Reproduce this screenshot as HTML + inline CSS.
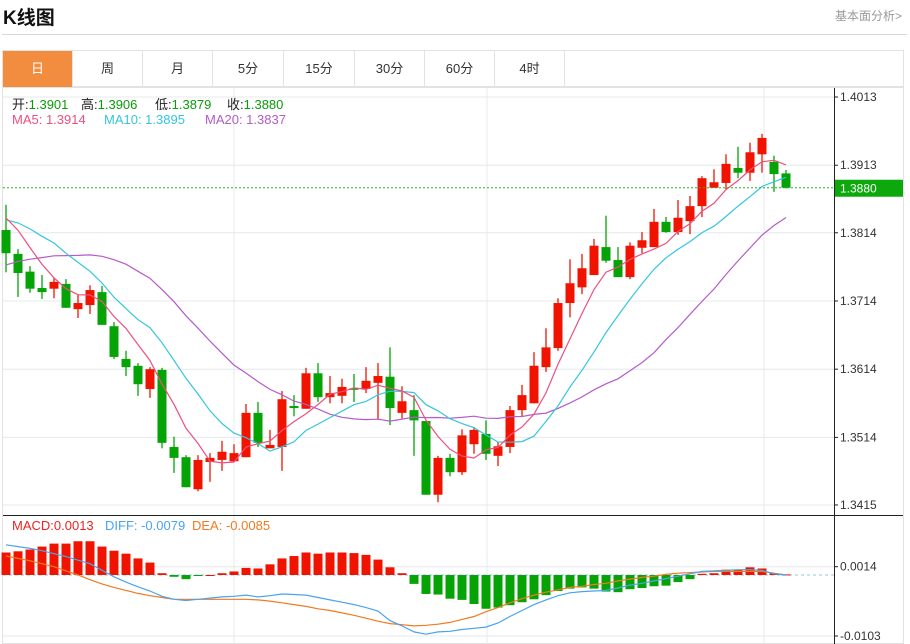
<!DOCTYPE html>
<html><head><meta charset="utf-8"><style>
body{margin:0;width:910px;height:644px;background:#fff;font-family:"Liberation Sans","Noto Sans CJK SC",sans-serif;overflow:hidden;position:relative}
.t{position:absolute;white-space:nowrap}
.l{position:absolute;white-space:nowrap;font-size:13px}
.tab{position:absolute;top:51px;height:36px;line-height:36px;text-align:center;font-size:13px;color:#333;border-right:1px solid #e2e2e2;box-sizing:border-box}
</style></head><body>
<div class="t" style="left:3px;top:3px;font-size:19px;font-weight:bold;color:#111">K线图</div>
<div class="t" style="left:835px;top:7px;font-size:12px;color:#999">基本面分析&gt;</div>
<div style="position:absolute;left:2px;top:34px;width:905px;height:1px;background:#d8d8d8"></div>
<div style="position:absolute;left:2px;top:50px;width:902px;height:37px;border:1px solid #e2e2e2;box-sizing:border-box"></div>
<div class="tab" style="left:3px;width:70px;background:#f28c3f;color:#fff">日</div>
<div class="tab" style="left:73px;width:70px">周</div>
<div class="tab" style="left:143px;width:70px">月</div>
<div class="tab" style="left:213px;width:71px">5分</div>
<div class="tab" style="left:284px;width:71px">15分</div>
<div class="tab" style="left:355px;width:70px">30分</div>
<div class="tab" style="left:425px;width:70px">60分</div>
<div class="tab" style="left:495px;width:70px">4时</div>

<svg id="chart" width="910" height="644" style="position:absolute;left:0;top:0" xmlns="http://www.w3.org/2000/svg"></svg>

<div style="position:absolute;left:0;top:94px;color:#222">
<span class="l" style="left:12px">开:<span style="color:#0a9a0a">1.3901</span></span>
<span class="l" style="left:81px">高:<span style="color:#0a9a0a">1.3906</span></span>
<span class="l" style="left:155px">低:<span style="color:#0a9a0a">1.3879</span></span>
<span class="l" style="left:227px">收:<span style="color:#0a9a0a">1.3880</span></span>
</div>
<div style="position:absolute;left:0;top:112px">
<span class="l" style="left:12px;color:#ee4f7e">MA5: 1.3914</span>
<span class="l" style="left:104px;color:#33c6de">MA10: 1.3895</span>
<span class="l" style="left:205px;color:#b45cc8">MA20: 1.3837</span>
</div>
<div style="position:absolute;left:0;top:518px">
<span class="l" style="left:12px;color:#ee2222">MACD:0.0013</span>
<span class="l" style="left:105px;color:#4aa3f0">DIFF: -0.0079</span>
<span class="l" style="left:192px;color:#f07a20">DEA: -0.0085</span>
</div>

<script>
const history=[1.3655,1.3665,1.3680,1.3690,1.3700,1.3705,1.3715,1.3720,1.3730,1.3750,1.3800,1.3820,1.3835,1.3840,1.3855,1.3845,1.3860,1.3850,1.3840];
const opens=[1.3818,1.3783,1.3757,1.3733,1.3732,1.3739,1.3702,1.3708,1.3727,1.3677,1.3629,1.3619,1.3585,1.3613,1.3500,1.3485,1.3438,1.3478,1.3481,1.3479,1.3485,1.3550,1.3498,1.3500,1.3560,1.3556,1.3608,1.3573,1.3575,1.3586,1.3585,1.3594,1.3603,1.3550,1.3554,1.3538,1.3430,1.3484,1.3463,1.3504,1.3519,1.3487,1.3500,1.3554,1.3564,1.3617,1.3645,1.3711,1.3734,1.3752,1.3793,1.3774,1.3749,1.3792,1.3793,1.3830,1.3815,1.3831,1.3853,1.3880,1.3887,1.3909,1.3902,1.3929,1.3918,1.3901];
const highs=[1.3855,1.3790,1.3765,1.3752,1.3748,1.3746,1.3723,1.3737,1.3736,1.3683,1.3641,1.3623,1.3617,1.3616,1.3515,1.3488,1.3488,1.3491,1.3509,1.3504,1.3563,1.3566,1.3525,1.3582,1.3576,1.3616,1.3623,1.3604,1.3600,1.3607,1.3617,1.3623,1.3646,1.3589,1.3576,1.3538,1.3487,1.3490,1.3526,1.3529,1.3539,1.3507,1.3560,1.3591,1.3639,1.3674,1.3718,1.3775,1.3783,1.3805,1.3839,1.3793,1.3800,1.3815,1.3849,1.3837,1.3862,1.3868,1.3897,1.3907,1.3929,1.3940,1.3946,1.3959,1.3927,1.3906];
const lows=[1.3756,1.3720,1.3726,1.3717,1.3718,1.3704,1.3689,1.3695,1.3679,1.3629,1.3604,1.3575,1.3572,1.3498,1.3462,1.3441,1.3435,1.3449,1.3465,1.3478,1.3485,1.3500,1.3498,1.3465,1.3545,1.3556,1.3566,1.3564,1.3564,1.3566,1.3579,1.3541,1.3532,1.3542,1.3487,1.3430,1.3419,1.3457,1.3459,1.3490,1.3481,1.3472,1.3491,1.3545,1.3564,1.3610,1.3641,1.3690,1.3724,1.3752,1.3770,1.3749,1.3746,1.3784,1.3793,1.3814,1.3811,1.3812,1.3837,1.3880,1.3878,1.3894,1.3890,1.3902,1.3874,1.3879];
const closes=[1.3784,1.3755,1.3732,1.3727,1.3742,1.3704,1.3711,1.3730,1.3679,1.3632,1.3617,1.3592,1.3614,1.3506,1.3484,1.3441,1.3481,1.3484,1.3493,1.3491,1.3550,1.3506,1.3503,1.3570,1.3557,1.3608,1.3573,1.3579,1.3588,1.3585,1.3597,1.3604,1.3557,1.3567,1.3539,1.3430,1.3484,1.3463,1.3517,1.3525,1.3490,1.3501,1.3554,1.3576,1.3619,1.3646,1.3711,1.3740,1.3762,1.3795,1.3773,1.3749,1.3795,1.3803,1.3830,1.3815,1.3836,1.3853,1.3894,1.3888,1.3915,1.3902,1.3932,1.3953,1.3900,1.3880];
const macdHist=[0.0038,0.0040,0.0043,0.0048,0.0053,0.0053,0.0057,0.0057,0.0048,0.0041,0.0036,0.0028,0.0021,0.0003,-0.0003,-0.0007,-0.0001,0.0000,0.0003,0.0006,0.0012,0.0011,0.0018,0.0028,0.0032,0.0038,0.0036,0.0038,0.0038,0.0037,0.0034,0.0026,0.0013,0.0003,-0.0015,-0.0032,-0.0033,-0.0040,-0.0042,-0.0049,-0.0057,-0.0055,-0.0051,-0.0046,-0.0041,-0.0034,-0.0027,-0.0023,-0.0021,-0.0023,-0.0028,-0.0029,-0.0024,-0.0022,-0.0019,-0.0018,-0.0012,-0.0007,0.0002,0.0003,0.0009,0.0009,0.0013,0.0011,0.0003,0.0001];
const diffVals=[0.0051,0.0048,0.0045,0.0041,0.0036,0.0031,0.0025,0.0019,0.0008,-0.0003,-0.0012,-0.0020,-0.0027,-0.0036,-0.0041,-0.0043,-0.0041,-0.0039,-0.0037,-0.0036,-0.0034,-0.0037,-0.0035,-0.0032,-0.0033,-0.0034,-0.0038,-0.0042,-0.0046,-0.0050,-0.0055,-0.0061,-0.0077,-0.0086,-0.0096,-0.0100,-0.0096,-0.0095,-0.0092,-0.0090,-0.0088,-0.0081,-0.0070,-0.0060,-0.0050,-0.0042,-0.0035,-0.0030,-0.0028,-0.0027,-0.0026,-0.0022,-0.0017,-0.0014,-0.0010,-0.0006,-0.0002,0.0002,0.0006,0.0007,0.0008,0.0009,0.0009,0.0008,0.0002,0.0000];
const deaVals=[0.0032,0.0028,0.0024,0.0019,0.0014,0.0007,0.0000,-0.0008,-0.0015,-0.0021,-0.0026,-0.0031,-0.0035,-0.0038,-0.0041,-0.0041,-0.0041,-0.0041,-0.0041,-0.0041,-0.0041,-0.0042,-0.0044,-0.0047,-0.0050,-0.0053,-0.0057,-0.0060,-0.0064,-0.0068,-0.0073,-0.0078,-0.0082,-0.0084,-0.0086,-0.0085,-0.0083,-0.0080,-0.0075,-0.0070,-0.0062,-0.0055,-0.0047,-0.0040,-0.0034,-0.0029,-0.0025,-0.0021,-0.0019,-0.0016,-0.0014,-0.0010,-0.0007,-0.0004,-0.0002,0.0001,0.0003,0.0004,0.0005,0.0006,0.0006,0.0006,0.0006,0.0006,0.0003,0.0000];
const priceTicks=[1.4013,1.3913,1.3814,1.3714,1.3614,1.3514,1.3415];
const macdTicks=[0.0014,-0.0103];
const lastPrice=1.3880;

const svg=document.getElementById('chart');
const NS='http://www.w3.org/2000/svg';
function mk(tag,attrs,parent){const e=document.createElementNS(NS,tag);for(const k in attrs)e.setAttribute(k,attrs[k]);(parent||svg).appendChild(e);return e;}
const xOf=i=>6+12*i;
const yP=p=>97+(1.4013-p)*6822;
const yM=v=>575-v*5922;
const RED='#f01400',GREEN='#05a305';

let g=mk('g',{});


mk('rect',{x:2.5,y:87.5,width:901,height:556,fill:'none',stroke:'#e2e2e2'},g);
[234,487,764].forEach(x=>mk('line',{x1:x,y1:88,x2:x,y2:644,stroke:'#e4e9ee'},g));
priceTicks.forEach(p=>mk('line',{x1:3,y1:yP(p),x2:834,y2:yP(p),stroke:'#e4e9ee'},g));
macdTicks.forEach(v=>mk('line',{x1:3,y1:yM(v),x2:834,y2:yM(v),stroke:'#e4e9ee'},g));
mk('line',{x1:834.5,y1:88,x2:834.5,y2:644,stroke:'#222'},g);
mk('line',{x1:3,y1:515.5,x2:903,y2:515.5,stroke:'#222'},g);

priceTicks.forEach(p=>{
 mk('line',{x1:834,y1:yP(p),x2:838,y2:yP(p),stroke:'#222'});
 const t=mk('text',{x:840,y:yP(p)+4,'font-size':12,fill:'#333'});
 
 
 t.textContent=p.toFixed(4);
});
macdTicks.forEach(v=>{
 mk('line',{x1:834,y1:yM(v),x2:838,y2:yM(v),stroke:'#222'});
 const t=mk('text',{x:840,y:yM(v)+4,'font-size':12,fill:'#333'});
 
 
 t.textContent=v.toFixed(4);
});

closes.forEach((c,i)=>{
 const o=opens[i],up=c>=o,col=up?RED:GREEN,x=xOf(i);
 const cg=mk('g',{});
 
 
 mk('line',{x1:x,y1:yP(highs[i]),x2:x,y2:yP(lows[i]),stroke:col,'stroke-width':1.3},cg);
 const top=yP(Math.max(o,c)),bot=yP(Math.min(o,c));
 mk('rect',{x:x-4.5,y:top,width:9,height:Math.max(bot-top,1.5),fill:col},cg);
});

const all=history.concat(closes);
function ma(n){return closes.map((_,i)=>{const j=i+history.length;let s=0;for(let k=j-n+1;k<=j;k++)s+=all[k];return s/n;});}
function line(vals,f,col,name){const p=mk('polyline',{points:vals.map((v,i)=>xOf(i)+','+f(v).toFixed(1)).join(' '),fill:'none',stroke:col,'stroke-width':1.2});}
line(ma(20),yP,'#b45cc8','ma20-line');
line(ma(10),yP,'#33c6de','ma10-line');
line(ma(5),yP,'#ee4f7e','ma5-line');

const lp=mk('line',{x1:3,y1:yP(lastPrice),x2:834,y2:yP(lastPrice),stroke:'#1fb51f','stroke-dasharray':'2,2'});


const lb=mk('rect',{x:835,y:yP(lastPrice)-8,width:68,height:17,fill:'#0ca80c'});


const lt=mk('text',{x:840,y:yP(lastPrice)+5,'font-size':12,fill:'#fff'});


lt.textContent=lastPrice.toFixed(4);

const zl=mk('line',{x1:3,y1:575,x2:834,y2:575,stroke:'#b8d8ea','stroke-dasharray':'3,3','stroke-width':1.5});


macdHist.forEach((v,i)=>{
 const y=yM(v),r=mk('rect',{x:xOf(i)-4.5,y:Math.min(y,575),width:9,height:Math.max(Math.abs(575-y),1),fill:v>=0?RED:GREEN});
 
 
});
line(deaVals,yM,'#f07a20','dea-line');
line(diffVals,yM,'#4aa3f0','diff-line');
</script>
</body></html>
